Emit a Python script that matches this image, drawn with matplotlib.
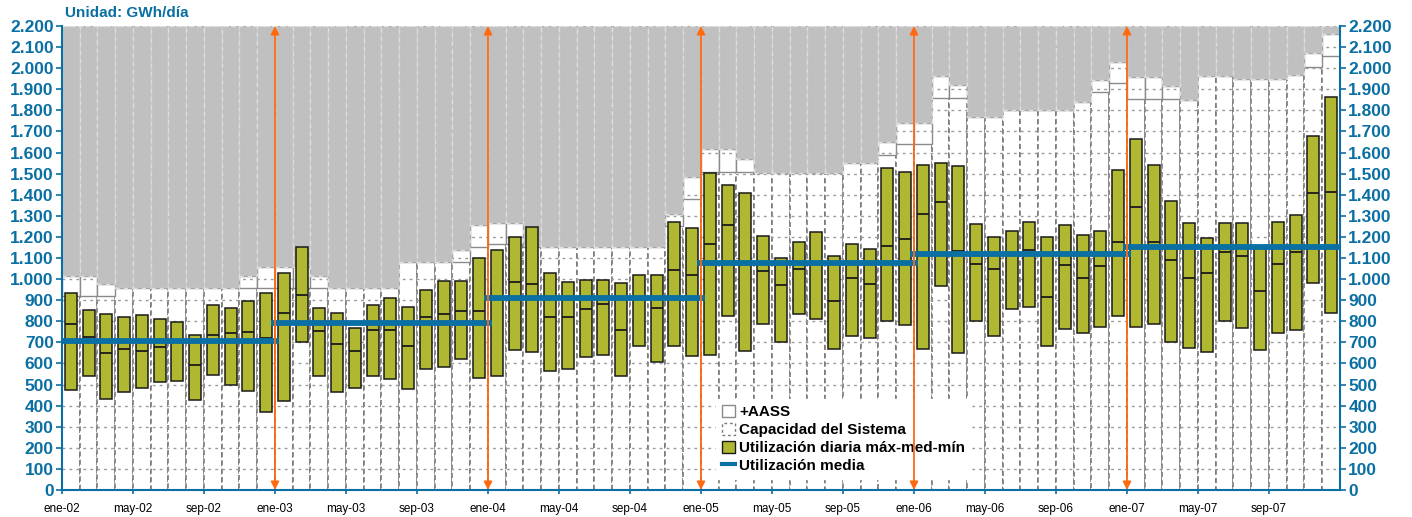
import numpy as np
import matplotlib.pyplot as plt
from matplotlib.patches import Patch
from matplotlib.lines import Line2D
from matplotlib.ticker import FuncFormatter

plt.rcParams['font.family'] = ['Liberation Sans', 'DejaVu Sans']

# monthly data, ene-02 .. dic-07 (GWh/día)
months = [f"{m}-{y:02d}" for y in range(2, 8)
          for m in ["ene", "feb", "mar", "abr", "may", "jun",
                    "jul", "ago", "sep", "oct", "nov", "dic"]]

capacidad = [920, 920, 920, 960, 960, 960, 960, 960, 960, 960, 960, 960,
             960, 960, 960, 960, 960, 960, 960, 1080, 1080, 1080, 1080, 1150,
             1165, 1165, 1150, 1150, 1150, 1150, 1150, 1150, 1150, 1150, 1250, 1380,
             1510, 1510, 1510, 1505, 1505, 1505, 1505, 1505, 1550, 1550, 1590, 1640,
             1640, 1860, 1860, 1770, 1770, 1800, 1800, 1800, 1800, 1840, 1885, 1930,
             1855, 1855, 1855, 1850, 1965, 1965, 1950, 1950, 1950, 1970, 2005, 2060]

aass = [95, 95, 55, 0, 0, 0, 0, 0, 0, 0, 55, 95,
        95, 95, 55, 0, 0, 0, 0, 0, 0, 0, 60, 105,
        100, 100, 10, 0, 0, 0, 0, 0, 0, 0, 60, 105,
        105, 105, 60, 0, 0, 0, 0, 0, 0, 0, 60, 100,
        100, 105, 60, 0, 0, 0, 0, 0, 0, 0, 60, 100,
        105, 105, 60, 0, 0, 0, 0, 0, 0, 0, 65, 100]

util_max = [935, 855, 835, 820, 830, 810, 795, 735, 875, 865, 895, 935,
            1030, 1150, 865, 840, 770, 875, 910, 870, 950, 990, 990, 1100,
            1140, 1200, 1245, 1030, 985, 995, 995, 980, 1020, 1020, 1270, 1240,
            1505, 1445, 1410, 1205, 1100, 1175, 1225, 1110, 1165, 1145, 1525, 1510,
            1540, 1550, 1535, 1260, 1200, 1230, 1270, 1200, 1255, 1210, 1230, 1515,
            1665, 1540, 1370, 1265, 1195, 1265, 1265, 1150, 1270, 1305, 1680, 1865]

util_med = [785, 725, 650, 667, 660, 680, 710, 595, 735, 745, 750, 720,
            840, 925, 755, 690, 660, 760, 760, 685, 820, 835, 850, 850,
            905, 985, 975, 820, 820, 860, 880, 760, 915, 865, 1045, 1020,
            1165, 1255, 1075, 1040, 970, 1047, 1081, 896, 1005, 978, 1157, 1190,
            1310, 1365, 1135, 1071, 1049, 1125, 1140, 915, 1065, 1005, 1060, 1175,
            1340, 1175, 1090, 1005, 1030, 1130, 1110, 945, 1070, 1130, 1410, 1415]

util_min = [473, 540, 430, 463, 485, 510, 515, 425, 543, 500, 468, 371,
            420, 700, 540, 465, 485, 540, 525, 480, 575, 585, 620, 530,
            540, 665, 655, 565, 575, 630, 640, 540, 685, 605, 685, 635,
            640, 825, 660, 785, 700, 833, 809, 668, 729, 720, 800, 782,
            670, 965, 650, 800, 730, 860, 870, 685, 762, 745, 773, 825,
            771, 785, 700, 675, 655, 800, 770, 665, 745, 760, 980, 840]

anios = [2002, 2003, 2004, 2005, 2006, 2007]
util_media = [705, 790, 910, 1075, 1120, 1150]

ymax = 2200
azul = '#0a6fa3'
verde = '#b0b832'
naranja = '#ff6a10'
gris = '#c0c0c0'

x = np.arange(len(months)) + 0.5
cap = np.array(capacidad)
aa = np.array(aass)
resto = ymax - cap - aa

fig = plt.figure(figsize=(14.12, 5.17), dpi=100)
ax = fig.add_axes([0.0439, 0.0522, 0.9051, 0.8975])

# capacity columns (white, dashed outline)
ax.bar(x, cap, width=1.0, color='white', edgecolor='#7a7a7a',
       linestyle=(0, (3, 2)), linewidth=1.2, zorder=1)
# +AASS on top (white, solid outline)
ax.bar(x, aa, bottom=cap, width=1.0, color='white', edgecolor='#8a8a8a',
       linewidth=1.0, zorder=1.1)

# dotted horizontal grid
for v in range(100, ymax + 1, 100):
    ax.axhline(v, color='#9a9a9a', linestyle=(0, (2, 3)), linewidth=1.0, zorder=1.5)

# gray remainder up to the top
ax.bar(x, resto, bottom=cap + aa, width=1.0, color=gris, edgecolor='#dedede',
       linestyle=(0, (3, 3)), linewidth=1.0, zorder=2)

# daily utilisation max-min boxes with median tick
lo = np.array(util_min)
hi = np.array(util_max)
ax.bar(x, hi - lo, bottom=lo, width=0.68, color=verde, edgecolor='#1a1a1a',
       linewidth=1.1, zorder=3)
ax.hlines(util_med, x - 0.34, x + 0.34, color='#1a1a1a', linewidth=1.3, zorder=3.5)

# yearly mean utilisation
for k, m in enumerate(util_media):
    x0 = 12 * k - 0.25
    x1 = 12 * (k + 1) + 0.2
    if k == len(util_media) - 1:
        x1 = len(months)
    ax.hlines(m, x0, x1, color=azul, linewidth=4.2, zorder=4)

# year boundary arrows
for k in range(1, len(anios)):
    ax.annotate('', xy=(12 * k, ymax), xytext=(12 * k, 0),
                arrowprops=dict(arrowstyle='<|-|>', color=naranja, lw=1.3,
                                mutation_scale=12, shrinkA=0, shrinkB=0),
                zorder=6)

ax.set_xlim(0, len(months))
ax.set_ylim(0, ymax)

fmt = FuncFormatter(lambda v, p: f"{int(v):,}".replace(',', '.'))
ax.set_yticks(range(0, ymax + 1, 100))
ax.yaxis.set_major_formatter(fmt)
ax.tick_params(axis='y', colors=azul, labelsize=12.5, length=4, width=1.2,
               labelleft=True, labelright=True, left=True, right=True, pad=2)
for lab in ax.get_yticklabels():
    lab.set_fontweight('bold')

xt = np.arange(0, len(months), 4)
ax.set_xticks(xt)
ax.set_xticklabels([months[i] for i in xt], fontsize=8.5)
ax.tick_params(axis='x', colors=azul, labelcolor='black', length=3, width=1.2, pad=6)

for s in ['left', 'right', 'bottom']:
    ax.spines[s].set_color(azul)
    ax.spines[s].set_linewidth(1.5)
ax.spines['top'].set_visible(False)

fig.text(0.046, 0.975, 'Unidad: GWh/día', color=azul, fontsize=11,
         fontweight='bold', va='center', ha='left')

handles = [
    Patch(facecolor='white', edgecolor='#8a8a8a', linewidth=1.0, label='+AASS'),
    Patch(facecolor='white', edgecolor='#7a7a7a', linestyle=(0, (2, 2)), linewidth=1.0,
          label='Capacidad del Sistema'),
    Patch(facecolor=verde, edgecolor='#1a1a1a', linewidth=1.0,
          label='Utilización diaria máx-med-mín'),
    Line2D([0], [0], color=azul, linewidth=3, label='Utilización media'),
]
leg = ax.legend(handles=handles, loc='upper left', bbox_to_anchor=(0.506, 0.213),
                frameon=True, fancybox=False, edgecolor='white', framealpha=1,
                handlelength=0.8, handleheight=0.8, handletextpad=0.3,
                labelspacing=0.25, borderpad=0.4,
                prop={'weight': 'bold', 'size': 11})
leg.set_zorder(5)

fig.savefig('out.png', dpi=100)
